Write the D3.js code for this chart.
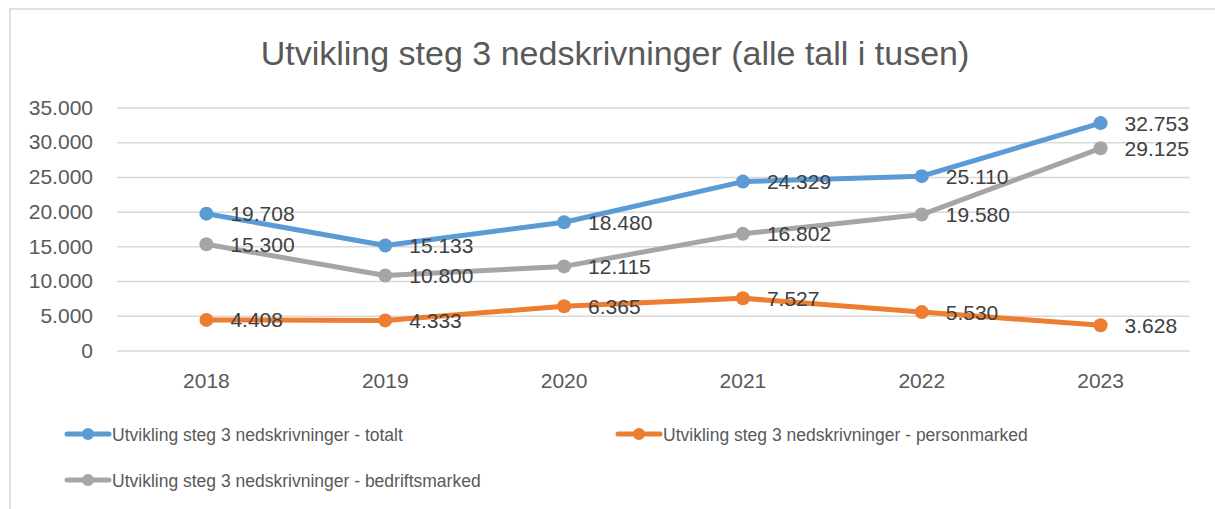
<!DOCTYPE html>
<html>
<head>
<meta charset="utf-8">
<script src="https://cdn.jsdelivr.net/npm/d3@7"></script>
<style>
html,body{margin:0;padding:0;background:#fff;}
svg{display:block;font-family:"Liberation Sans",Arial,sans-serif;}
</style>
</head>
<body>
<svg id="chart" width="1215" height="509"></svg>
<script>
const title = "Utvikling steg 3 nedskrivninger (alle tall i tusen)";
const years = ["2018","2019","2020","2021","2022","2023"];
const totalt = [19708,15133,18480,24329,25110,32753];
const personmarked = [4408,4333,6365,7527,5530,3628];
const bedriftsmarked = [15300,10800,12115,16802,19580,29125];
const yTicks = [0,5000,10000,15000,20000,25000,30000,35000];
const seriesNames = [
  "Utvikling steg 3 nedskrivninger - totalt",
  "Utvikling steg 3 nedskrivninger - personmarked",
  "Utvikling steg 3 nedskrivninger - bedriftsmarked"
];
const seriesColors = ["#5B9BD5","#ED7D31","#A5A5A5"];

const series = [
  {name: seriesNames[0], values: totalt, color: seriesColors[0]},
  {name: seriesNames[1], values: personmarked, color: seriesColors[1]},
  {name: seriesNames[2], values: bedriftsmarked, color: seriesColors[2]}
];

const locale = d3.formatLocale({decimal:",", thousands:".", grouping:[3], currency:["","kr"]});
const fmt = locale.format(",d");

const svg = d3.select("#chart");

// frame
svg.append("path").attr("d","M10,509 L10,9 L1215,9")
  .attr("fill","none").attr("stroke","#d9d9d9").attr("stroke-width",1.5);

const plot = {left:117, right:1190, top:107.5, bottom:350.5};
const x = d3.scaleBand().domain(years).range([plot.left, plot.right]);
const y = d3.scaleLinear().domain([0,35000]).range([plot.bottom, plot.top]);
const cx = d => x(d) + x.bandwidth()/2;

// title
svg.append("text").attr("x",615).attr("y",65).attr("text-anchor","middle")
  .attr("font-size",34).attr("fill","#595959").text(title);

// grid + y axis
const yAxis = d3.axisLeft(y).tickValues(yTicks).tickFormat(fmt)
  .tickSize(-(plot.right-plot.left)).tickPadding(24);
const gy = svg.append("g").attr("transform",`translate(${plot.left},0)`).call(yAxis);
gy.select(".domain").remove();
gy.selectAll(".tick line").attr("stroke","#d9d9d9").attr("stroke-width",1.5);
gy.selectAll(".tick text").attr("font-size",21).attr("fill","#595959")
  .attr("font-family","Liberation Sans, Arial, sans-serif");

// x axis
const xAxis = d3.axisBottom(x).tickSize(0).tickPadding(0);
const gx = svg.append("g").attr("transform",`translate(0,${plot.bottom})`).call(xAxis);
gx.select(".domain").remove();
gx.selectAll(".tick text").attr("font-size",21).attr("fill","#595959")
  .attr("dy",null).attr("y",37).attr("font-family","Liberation Sans, Arial, sans-serif");

// lines
const line = d3.line().x((d,i)=>cx(years[i])).y(d=>y(d));
series.forEach(s=>{
  svg.append("path").datum(s.values).attr("d",line)
    .attr("fill","none").attr("stroke",s.color).attr("stroke-width",5)
    .attr("stroke-linejoin","round").attr("stroke-linecap","round");
  svg.append("g").selectAll("circle").data(s.values).join("circle")
    .attr("cx",(d,i)=>cx(years[i])).attr("cy",d=>y(d)).attr("r",7)
    .attr("fill",s.color);
});

// labels
series.forEach(s=>{
  svg.append("g").selectAll("text").data(s.values).join("text")
    .attr("x",(d,i)=>cx(years[i])+24).attr("y",d=>y(d)).attr("dy","0.36em")
    .attr("font-size",21).attr("fill","#404040").text(d=>fmt(d));
});

// legend
const legendPos = [[67,434],[618,434],[67,480]];
series.forEach((s,i)=>{
  const [lx,ly] = legendPos[i];
  const g = svg.append("g").attr("transform",`translate(${lx},${ly})`);
  g.append("line").attr("x1",0).attr("x2",42).attr("y1",0).attr("y2",0)
    .attr("stroke",s.color).attr("stroke-width",5).attr("stroke-linecap","round");
  g.append("circle").attr("cx",21).attr("cy",0).attr("r",6).attr("fill",s.color);
  g.append("text").attr("x",45).attr("y",6.5).attr("font-size",17.5)
    .attr("fill","#595959").text(s.name);
});
</script>
</body>
</html>
